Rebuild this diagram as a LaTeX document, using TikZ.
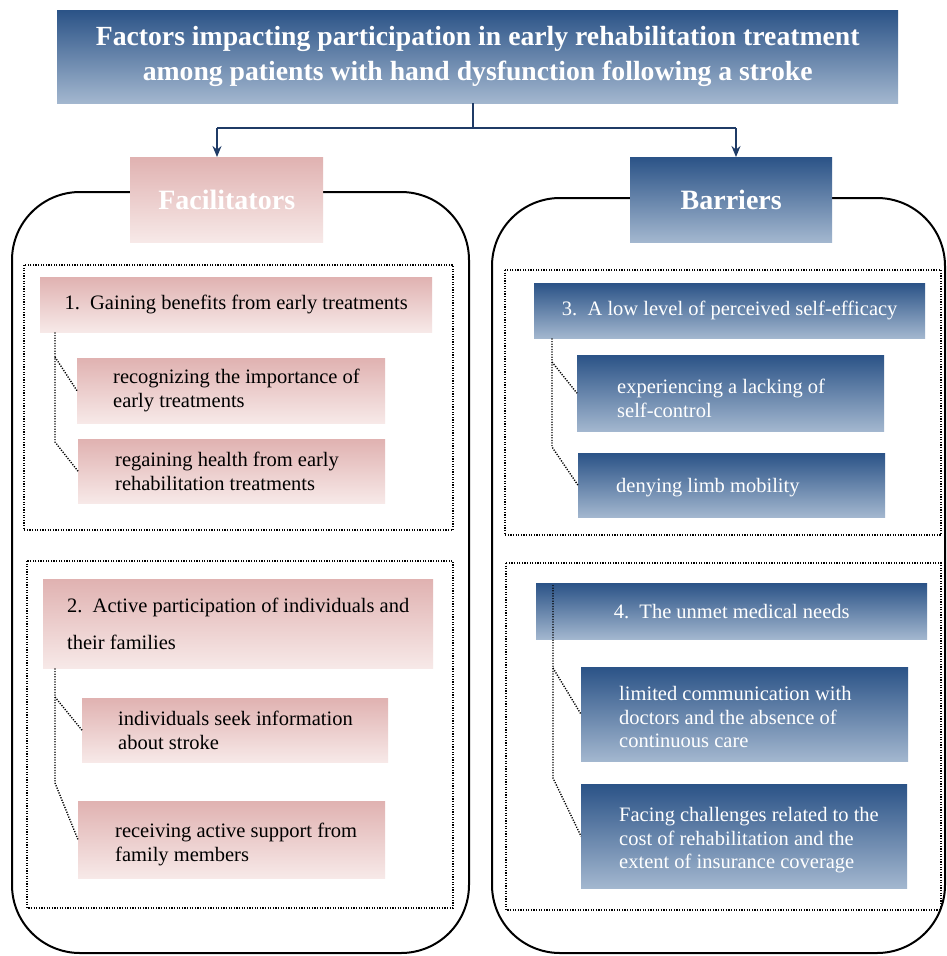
\documentclass[tikz,border=0pt]{standalone}
\usepackage{fontspec}
\setmainfont{Liberation Serif}
\usetikzlibrary{arrows.meta}
\definecolor{bluetop}{HTML}{2B5387}
\definecolor{bluebot}{HTML}{A3B7CF}
\definecolor{pinktop}{HTML}{E0B2B1}
\definecolor{pinkbot}{HTML}{F7E9E8}
\definecolor{arrowblue}{HTML}{1F3B66}
\tikzset{
  bluebox/.style={top color=bluetop, bottom color=bluebot, draw=none, inner sep=0pt, anchor=north west, text=white},
  pinkbox/.style={top color=pinktop, bottom color=pinkbot, draw=none, inner sep=0pt, anchor=north west, text=black},
  container/.style={draw=black, line width=2pt, rounded corners=68pt},
  dotbox/.style={draw=black, line width=1.4pt, dash pattern=on 1.2pt off 1.4pt},
  dotline/.style={draw=black, line width=1.4pt, dash pattern=on 1.2pt off 1.4pt},
  hdtxt/.style={font=\fontsize{20.5}{24}\selectfont},
  dtxt/.style={text=black, font=\fontsize{20.5}{24}\selectfont, align=left, anchor=west, inner sep=0pt},
  wtxt/.style={text=white, font=\fontsize{20.5}{23.5}\selectfont, align=left, anchor=west, inner sep=0pt},
  flow/.style={draw=arrowblue, line width=1.6pt},
  flowarrow/.style={flow, -{Stealth[length=11pt,width=9pt]}},
}
\begin{document}
\begin{tikzpicture}[x=1pt,y=-1pt]
\useasboundingbox (0,0) rectangle (946,956);
\fill[white] (0,0) rectangle (946,956);

% containers
\draw[container] (12,192) rectangle (469,953);
\draw[container] (492,198) rectangle (945,953);

% title
\node[bluebox, minimum width=841pt, minimum height=93pt, align=center,
      font=\bfseries\fontsize{27.7}{35}\selectfont] (title) at (57,10)
  {Factors impacting participation in early rehabilitation treatment\\among patients with hand dysfunction following a stroke};

% category boxes
\node[pinkbox, text=white, minimum width=193pt, minimum height=85pt,
      font=\bfseries\fontsize{28}{30}\selectfont] (fac) at (130,157) {Facilitators};
\node[bluebox, minimum width=202pt, minimum height=85pt,
      font=\bfseries\fontsize{28}{30}\selectfont] (bar) at (630,157) {Barriers};

\coordinate (split) at (473,128);
\coordinate (fl) at (217,128);
\coordinate (bl) at (736,128);
\draw[flow] (split |- title.south) -- (split);
\draw[flow] (fl) -- (bl);
\draw[flowarrow] (fl) -- (fl |- fac.north);
\draw[flowarrow] (bl) -- (bl |- bar.north);

% dotted groups
\draw[dotbox] (24,265) rectangle (453,530);
\draw[dotbox] (27,561) rectangle (453,908);
\draw[dotbox] (505,270) rectangle (941,535);
\draw[dotbox] (506,563) rectangle (941,910);

% group 1
\node[pinkbox, hdtxt, minimum width=392pt, minimum height=55pt] (h1) at (40,277)
  {1.\ \ Gaining benefits from early treatments};
\node[pinkbox, minimum width=308pt, minimum height=65pt] (s1a) at (77,358) {};
\node[dtxt] (s1at) at ([xshift=36pt]s1a.west) {recognizing the importance of\\early treatments};
\node[pinkbox, minimum width=307pt, minimum height=64pt] (s1b) at (78,439) {};
\node[dtxt] (s1bt) at ([xshift=37pt]s1b.west) {regaining health from early\\rehabilitation treatments};
\coordinate (j1a) at (55,357);
\coordinate (j1b) at (55,442);
\draw[dotline] (h1.south west -| j1a) -- (j1b) -- (s1b.west);
\draw[dotline] (j1a) -- (s1a.west);

% group 2
\node[pinkbox, minimum width=390pt, minimum height=89pt, align=left,
      font=\fontsize{20.5}{37}\selectfont] (h2) at (43,579)
  {2.\ \ Active participation of individuals and\\their families};
\node[pinkbox, minimum width=306pt, minimum height=64pt] (s2a) at (82,698) {};
\node[dtxt] (s2at) at ([xshift=36pt]s2a.west) {individuals seek information\\about stroke};
\node[pinkbox, minimum width=307pt, minimum height=77pt] (s2b) at (78,801) {};
\node[dtxt] (s2bt) at ([xshift=37pt,yshift=-5pt]s2b.west) {receiving active support from\\family members};
\coordinate (j2a) at (55,697);
\coordinate (j2b) at (55,783);
\draw[dotline] (h2.south west -| j2a) -- (j2b) -- (s2b.west);
\draw[dotline] (j2a) -- (s2a.west);

% group 3
\node[bluebox, hdtxt, minimum width=391pt, minimum height=55pt] (h3) at (534,283)
  {3.\ \ A low level of perceived self-efficacy};
\node[bluebox, minimum width=307pt, minimum height=76pt] (s3a) at (577,355) {};
\node[wtxt] (s3at) at ([xshift=40pt,yshift=-5pt]s3a.west) {experiencing a lacking of\\self-control};
\node[bluebox, minimum width=307pt, minimum height=64pt] (s3b) at (578,453) {};
\node[wtxt] (s3bt) at ([xshift=38pt,yshift=-2pt]s3b.west) {denying limb mobility};
\coordinate (j3a) at (552,362);
\coordinate (j3b) at (552,447);
\draw[dotline] (h3.south west -| j3a) -- (j3b) -- (s3b.west);
\draw[dotline] (j3a) -- (s3a.west);

% group 4
\node[bluebox, hdtxt, minimum width=391pt, minimum height=56pt] (h4) at (536,583)
  {4.\ \ The unmet medical needs};
\node[bluebox, minimum width=327pt, minimum height=94pt] (s4a) at (581,667) {};
\node[wtxt] (s4at) at ([xshift=38pt,yshift=-3pt]s4a.west) {limited communication with\\doctors and the absence of\\continuous care};
\node[bluebox, minimum width=326pt, minimum height=104pt] (s4b) at (581,784) {};
\node[wtxt] (s4bt) at ([xshift=38pt,yshift=-4pt]s4b.west) {Facing challenges related to the\\cost of rehabilitation and the\\extent of insurance coverage};
\coordinate (j4a) at (553,668);
\coordinate (j4b) at (553,778);
\draw[dotline] ([yshift=-2pt]h4.north west -| j4a) -- (j4b) -- (s4b.west);
\draw[dotline] (j4a) -- (s4a.west);
\end{tikzpicture}
\end{document}
